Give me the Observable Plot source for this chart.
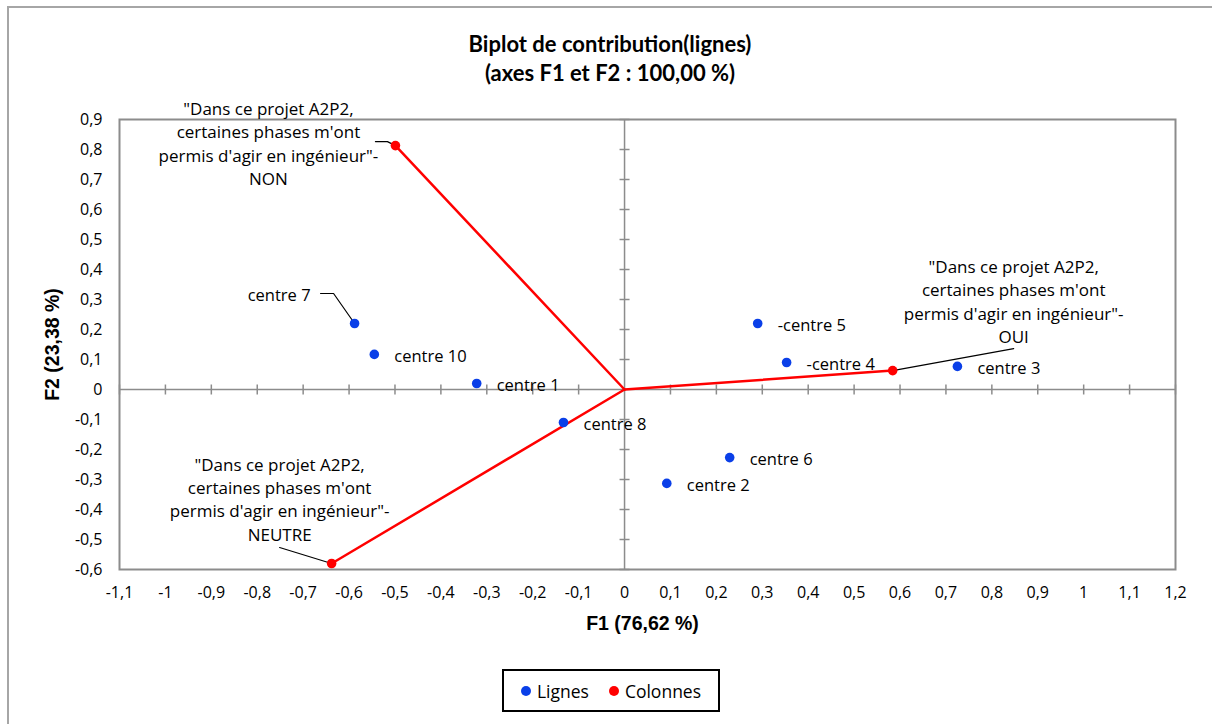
<!DOCTYPE html>
<html>
<head>
<meta charset="utf-8">
<script src="https://cdn.jsdelivr.net/npm/d3@7"></script>
<script src="https://cdn.jsdelivr.net/npm/@observablehq/plot@0.6"></script>
<style>
  html, body { margin: 0; padding: 0; background: #fff; }
  #wrap { position: relative; width: 1212px; height: 724px; overflow: hidden; font-family: "Open Sans", sans-serif; }
  #outer { position: absolute; left: 7px; top: 6px; width: 2000px; height: 2000px; border-left: 2px solid #a6a6a6; border-top: 2px solid #a6a6a6; }
  #title { position: absolute; top: 29px; left: 0; width: 1220px; text-align: center; font-family: Lato, sans-serif; font-weight: bold; font-size: 22px; line-height: 29px; color: #000; }
  #chart { position: absolute; top: 88px; left: 0; }
  #chart svg { overflow: visible; }
  #legend { position: absolute; left: 502px; top: 669px; width: 214px; height: 39px; border: 2px solid #000; display: flex; align-items: center; justify-content: center; gap: 20px; font-size: 17.5px; color: #000; background: #fff; }
  .item { display: flex; align-items: center; gap: 6px; }
  .sw { width: 10px; height: 10px; border-radius: 50%; display: inline-block; }
</style>
</head>
<body>
<div id="wrap">
  <div id="outer"></div>
  <div id="title"></div>
  <div id="chart"></div>
  <div id="legend"></div>
</div>
<script>
// ---- Data ----
const titleLines = ["Biplot de contribution(lignes)", "(axes F1 et F2 : 100,00 %)"];
const xLabel = "F1 (76,62 %)";
const yLabel = "F2 (23,38 %)";
const seriesNames = ["Lignes", "Colonnes"];

const rowLabels = ["centre 7", "centre 10", "centre 1", "centre 8", "centre 2", "centre 6", "-centre 5", "-centre 4", "centre 3"];
const rowF1 = [-0.588, -0.545, -0.322, -0.133, 0.092, 0.229, 0.290, 0.353, 0.725];
const rowF2 = [0.220, 0.117, 0.020, -0.110, -0.313, -0.227, 0.220, 0.090, 0.077];

const colLabels = [
  "\"Dans ce projet A2P2,\ncertaines phases m'ont\npermis d'agir en ingénieur\"-\nNON",
  "\"Dans ce projet A2P2,\ncertaines phases m'ont\npermis d'agir en ingénieur\"-\nOUI",
  "\"Dans ce projet A2P2,\ncertaines phases m'ont\npermis d'agir en ingénieur\"-\nNEUTRE"
];
const colF1 = [-0.499, 0.584, -0.638];
const colF2 = [0.813, 0.063, -0.580];

const xTicks = d3.range(-11, 13).map(d => d / 10);
const yTicks = d3.range(-6, 10).map(d => d / 10);

// ---- Layout / style (not data) ----
const BLUE = "#0a3fe8", RED = "#ff0000", GRAY = "#8c8c8c";
const W = 1212, H = 572, mL = 119, mR = 37, mT = 31, mB = 91;
const xDom = [-1.1, 1.2], yDom = [-0.6, 0.9];
const kx = (xDom[1] - xDom[0]) / (W - mL - mR);
const ky = (yDom[1] - yDom[0]) / (H - mT - mB);

// label offsets in px: [dx, dy, anchor]
const rowLabelPos = [[-44, -28, "end"], [20, 2, "start"], [20, 2, "start"], [20, 2, "start"], [20, 2, "start"], [20, 2, "start"], [20, 2, "start"], [20, 2, "start"], [20, 2, "start"]];
const colLabelPos = [[-127, -3], [121, -70], [-52, -65]];
// leader polylines, px offsets from the point
const rowLeaders = {0: [[0, 0], [-21, -30], [-34, -30]]};
const colLeaders = {0: [[0, 0], [-8, -4], [-20, -4]], 1: [[0, 0], [121, -22]], 2: [[0, 0], [-52, -16]]};

const rows = rowLabels.map((l, i) => ({label: l, x: rowF1[i], y: rowF2[i], dx: rowLabelPos[i][0], dy: rowLabelPos[i][1], anchor: rowLabelPos[i][2]}));
const cols = colLabels.map((l, i) => ({label: l, x: colF1[i], y: colF2[i], dx: colLabelPos[i][0], dy: colLabelPos[i][1]}));

const leaders = [];
function addLeaders(list, map, prefix) {
  for (const [k, pts] of Object.entries(map)) {
    const p = list[+k];
    pts.forEach(([ox, oy]) => leaders.push({id: prefix + k, x: p.x + ox * kx, y: p.y - oy * ky}));
  }
}
addLeaders(rows, rowLeaders, "r");
addLeaders(cols, colLeaders, "c");

const rays = cols.flatMap((c, i) => [{id: i, x: 0, y: 0}, {id: i, x: c.x, y: c.y}]);

const vtick = {draw(ctx) { ctx.moveTo(0, -5); ctx.lineTo(0, 5); }};
const htick = {draw(ctx) { ctx.moveTo(-5, 0); ctx.lineTo(5, 0); }};
const fmt = d => String(Math.round(d * 10) / 10).replace(".", ",");

const chart = Plot.plot({
  width: W, height: H,
  marginLeft: mL, marginRight: mR, marginTop: mT, marginBottom: mB,
  style: {fontFamily: "'Open Sans', sans-serif", fontSize: "16px", color: "#000", background: "transparent"},
  x: {domain: xDom, ticks: xTicks, tickFormat: fmt, tickSize: 0, tickPadding: 17, label: null},
  y: {domain: yDom, ticks: yTicks, tickFormat: fmt, tickSize: 0, tickPadding: 17, label: null},
  marks: [
    Plot.frame({stroke: GRAY, strokeWidth: 2}),
    Plot.ruleY([0], {stroke: GRAY, strokeWidth: 1.5}),
    Plot.ruleX([0], {stroke: GRAY, strokeWidth: 1.5}),
    Plot.dot(xTicks.filter(t => t !== 0), {x: d => d, y: 0, symbol: vtick, fill: "none", stroke: GRAY, strokeWidth: 1.5}),
    Plot.dot(yTicks.filter(t => t !== 0), {x: 0, y: d => d, symbol: htick, fill: "none", stroke: GRAY, strokeWidth: 1.5}),
    Plot.line(rays, {x: "x", y: "y", z: "id", stroke: RED, strokeWidth: 2.5}),
    Plot.line(leaders, {x: "x", y: "y", z: "id", stroke: "#000", strokeWidth: 1.2}),
    Plot.dot(rows, {x: "x", y: "y", r: 4.8, fill: BLUE}),
    Plot.dot(cols, {x: "x", y: "y", r: 4.8, fill: RED}),
    ...rows.map(r => Plot.text([r], {x: "x", y: "y", text: "label", dx: r.dx, dy: r.dy, textAnchor: r.anchor, fontSize: 16.5, fill: "#000"})),
    ...cols.map(c => Plot.text([c], {x: "x", y: "y", text: "label", dx: c.dx, dy: c.dy, textAnchor: "middle", lineAnchor: "middle", lineHeight: 1.36, fontSize: 17, fill: "#000"})),
    Plot.text([xLabel], {frameAnchor: "bottom", text: d => d, dy: 54, dx: -5, textAnchor: "middle", lineAnchor: "middle", fontFamily: "'Liberation Sans', Arial, sans-serif", fontWeight: "bold", fontSize: 19.5, fill: "#000"}),
    Plot.text([yLabel], {frameAnchor: "left", text: d => d, dx: -67, rotate: -90, textAnchor: "middle", lineAnchor: "middle", fontFamily: "'Liberation Sans', Arial, sans-serif", fontWeight: "bold", fontSize: 19.5, fill: "#000"})
  ]
});
document.getElementById("chart").appendChild(chart);

document.getElementById("title").innerHTML = titleLines.map(t => `<div>${t}</div>`).join("");
const legendColors = [BLUE, RED];
document.getElementById("legend").innerHTML = seriesNames.map((n, i) =>
  `<span class="item"><span class="sw" style="background:${legendColors[i]}"></span>${n}</span>`).join("");
</script>
</body>
</html>
